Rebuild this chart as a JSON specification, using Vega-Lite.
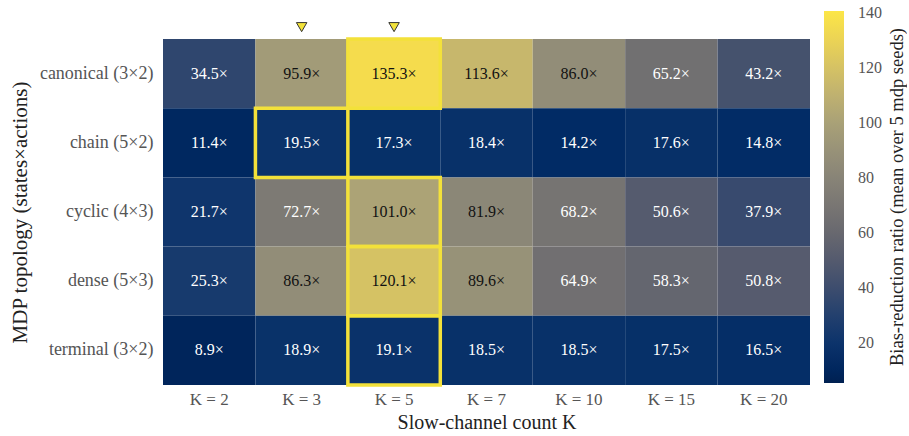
{
  "$schema": "https://vega.github.io/schema/vega-lite/v6.json",
  "padding": {"left": 9, "top": 11, "right": 0, "bottom": 5},
  "background": "white",
  "config": {
    "font": "Liberation Serif",
    "view": {"stroke": null},
    "concat": {"spacing": 0},
    "text": {"font": "Liberation Serif"}
  },
  "datasets": {
    "cells": [
      {"topology": "canonical (3×2)", "K": "K = 2", "value": 34.5},
      {"topology": "canonical (3×2)", "K": "K = 3", "value": 95.9},
      {"topology": "canonical (3×2)", "K": "K = 5", "value": 135.3},
      {"topology": "canonical (3×2)", "K": "K = 7", "value": 113.6},
      {"topology": "canonical (3×2)", "K": "K = 10", "value": 86.0},
      {"topology": "canonical (3×2)", "K": "K = 15", "value": 65.2},
      {"topology": "canonical (3×2)", "K": "K = 20", "value": 43.2},
      {"topology": "chain (5×2)", "K": "K = 2", "value": 11.4},
      {"topology": "chain (5×2)", "K": "K = 3", "value": 19.5},
      {"topology": "chain (5×2)", "K": "K = 5", "value": 17.3},
      {"topology": "chain (5×2)", "K": "K = 7", "value": 18.4},
      {"topology": "chain (5×2)", "K": "K = 10", "value": 14.2},
      {"topology": "chain (5×2)", "K": "K = 15", "value": 17.6},
      {"topology": "chain (5×2)", "K": "K = 20", "value": 14.8},
      {"topology": "cyclic (4×3)", "K": "K = 2", "value": 21.7},
      {"topology": "cyclic (4×3)", "K": "K = 3", "value": 72.7},
      {"topology": "cyclic (4×3)", "K": "K = 5", "value": 101.0},
      {"topology": "cyclic (4×3)", "K": "K = 7", "value": 81.9},
      {"topology": "cyclic (4×3)", "K": "K = 10", "value": 68.2},
      {"topology": "cyclic (4×3)", "K": "K = 15", "value": 50.6},
      {"topology": "cyclic (4×3)", "K": "K = 20", "value": 37.9},
      {"topology": "dense (5×3)", "K": "K = 2", "value": 25.3},
      {"topology": "dense (5×3)", "K": "K = 3", "value": 86.3},
      {"topology": "dense (5×3)", "K": "K = 5", "value": 120.1},
      {"topology": "dense (5×3)", "K": "K = 7", "value": 89.6},
      {"topology": "dense (5×3)", "K": "K = 10", "value": 64.9},
      {"topology": "dense (5×3)", "K": "K = 15", "value": 58.3},
      {"topology": "dense (5×3)", "K": "K = 20", "value": 50.8},
      {"topology": "terminal (3×2)", "K": "K = 2", "value": 8.9},
      {"topology": "terminal (3×2)", "K": "K = 3", "value": 18.9},
      {"topology": "terminal (3×2)", "K": "K = 5", "value": 19.1},
      {"topology": "terminal (3×2)", "K": "K = 7", "value": 18.5},
      {"topology": "terminal (3×2)", "K": "K = 10", "value": 18.5},
      {"topology": "terminal (3×2)", "K": "K = 15", "value": 17.5},
      {"topology": "terminal (3×2)", "K": "K = 20", "value": 16.5}
    ],
    "markers": [
      {"K": "K = 3", "level": 0.38},
      {"K": "K = 5", "level": 0.38}
    ]
  },
  "vconcat": [
    {
      "width": 647,
      "height": 26,
      "data": {"name": "markers"},
      "mark": {"type": "point", "shape": "triangle-down", "filled": true, "fill": "#f2e23a", "stroke": "#333333", "strokeWidth": 1, "size": 110, "opacity": 1},
      "encoding": {
        "x": {"field": "K", "type": "nominal", "scale": {"type": "band", "domain": ["K = 2", "K = 3", "K = 5", "K = 7", "K = 10", "K = 15", "K = 20"], "paddingInner": 0, "paddingOuter": 0}, "axis": null},
        "y": {"field": "level", "type": "quantitative", "scale": {"domain": [0, 1]}, "axis": null}
      }
    },
    {
      "width": 647,
      "height": 346,
      "data": {"name": "cells"},
      "transform": [
        {"calculate": "format(datum.value, '.1f') + '×'", "as": "label"},
        {"joinaggregate": [{"op": "max", "field": "value", "as": "rowmax"}], "groupby": ["topology"]}
      ],
      "encoding": {
        "x": {
          "field": "K", "type": "nominal",
          "scale": {"domain": ["K = 2", "K = 3", "K = 5", "K = 7", "K = 10", "K = 15", "K = 20"], "paddingInner": 0, "paddingOuter": 0},
          "axis": {"title": "Slow-channel count K", "titleFontSize": 20, "titleFontWeight": "normal", "titleColor": "#222222", "titlePadding": 5, "labelAngle": 0, "labelFontSize": 17, "labelColor": "#555555", "labelPadding": 6, "ticks": false, "domain": false}
        },
        "y": {
          "field": "topology", "type": "nominal",
          "scale": {"domain": ["canonical (3×2)", "chain (5×2)", "cyclic (4×3)", "dense (5×3)", "terminal (3×2)"], "paddingInner": 0, "paddingOuter": 0},
          "axis": {"title": "MDP topology (states×actions)", "titleFontSize": 21, "titleFontWeight": "normal", "titleColor": "#222222", "titlePadding": 9, "labelFontSize": 18, "labelColor": "#555555", "labelPadding": 10, "labelLimit": 200, "ticks": false, "domain": false}
        }
      },
      "layer": [
        {
          "mark": {"type": "rect"},
          "encoding": {
            "color": {
              "field": "value", "type": "quantitative",
              "scale": {"scheme": "cividis", "domain": [5.5, 140.6]},
              "legend": {
                "title": "Bias-reduction ratio (mean over 5 mdp seeds)",
                "orient": "right", "offset": 14,
                "gradientLength": 372, "gradientThickness": 20,
                "values": [20, 40, 60, 80, 100, 120, 140],
                "labelFontSize": 16, "labelColor": "#555555", "labelOverlap": false, "labelOffset": 14,
                "titleOrient": "right", "titleFontSize": 18.5, "titleFontWeight": "normal", "titleColor": "#222222", "titleAnchor": "middle", "titlePadding": 6, "titleLimit": 500,
                "encode": {"title": {"update": {"angle": {"value": 270}, "baseline": {"value": "top"}}}}
              }
            }
          }
        },
        {
          "transform": [{"filter": "datum.value == datum.rowmax"}],
          "mark": {"type": "rect", "fill": "transparent", "stroke": "#f3e13a", "strokeWidth": 3.5},
          "encoding": {}
        },
        {
          "mark": {"type": "text", "fontSize": 16, "font": "Liberation Serif"},
          "encoding": {
            "text": {"field": "label"},
            "color": {"condition": {"test": "datum.value > 75", "value": "#111111"}, "value": "#ffffff"}
          }
        }
      ]
    }
  ]
}
